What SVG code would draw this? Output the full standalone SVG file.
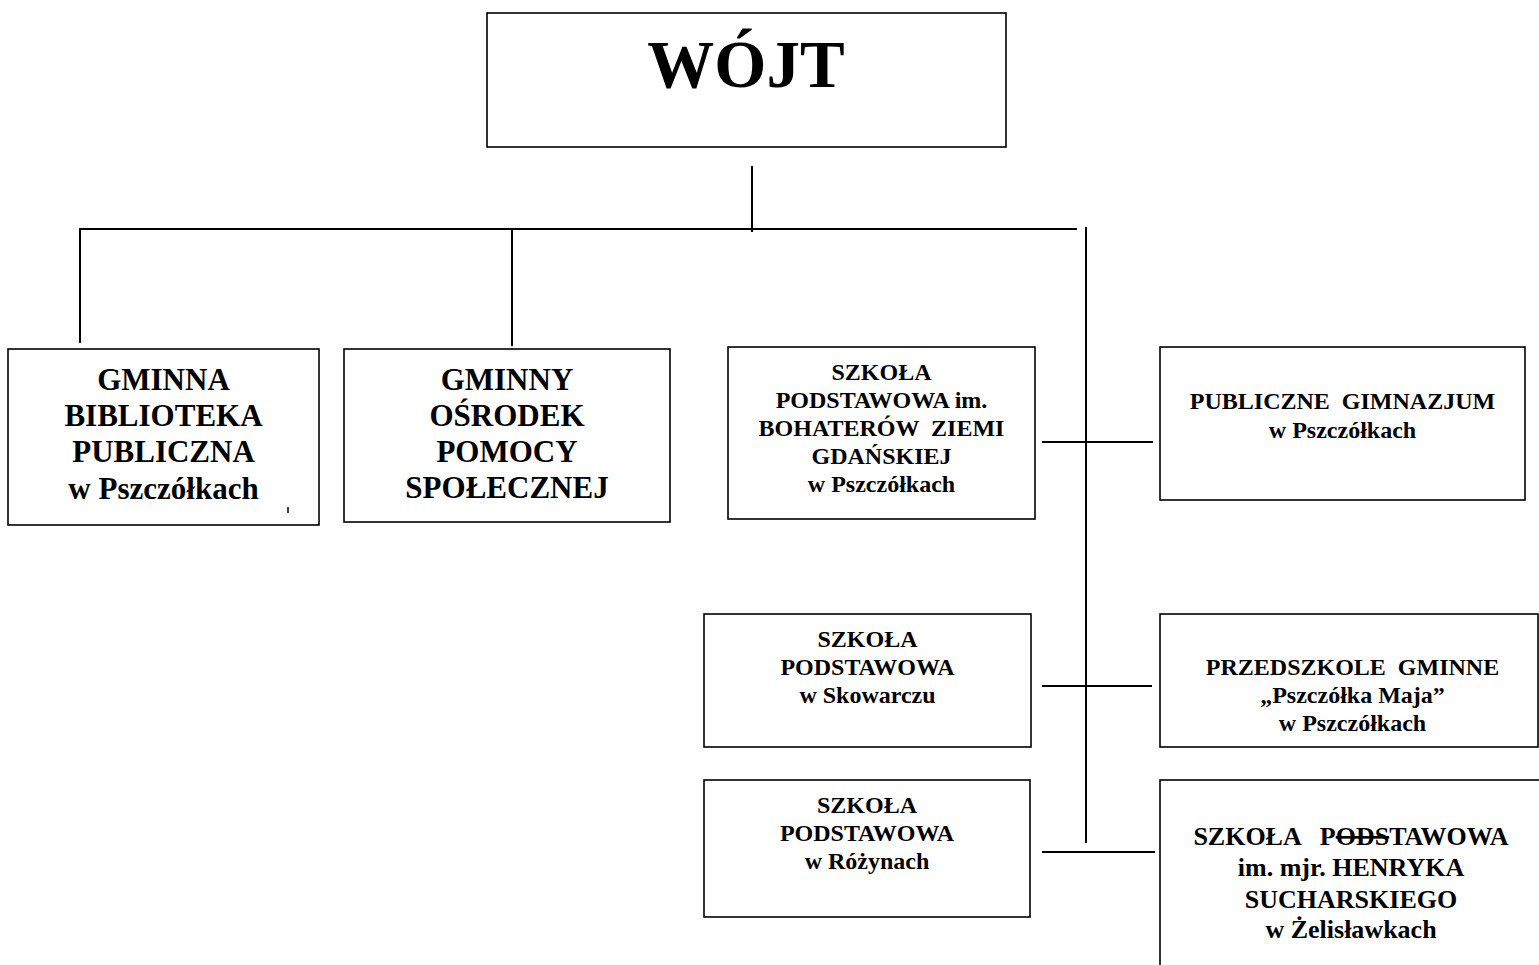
<svg xmlns="http://www.w3.org/2000/svg" width="1539" height="965" viewBox="0 0 1539 965">
<style>
.box{fill:#fff;stroke:#000;stroke-width:1.6}
.ln{stroke:#000;stroke-width:2;fill:none}
text{font-family:"Liberation Serif","Times New Roman",serif;font-weight:bold;fill:#000;text-anchor:middle;white-space:pre}
.big{font-size:31px}
.md{font-size:24px}
.lg{font-size:26px}
</style>
<rect width="1539" height="965" fill="#fff"/>
<g id="connectors">
<line class="ln" x1="752" y1="166" x2="752" y2="232"/>
<line class="ln" x1="79" y1="229" x2="1077" y2="229"/>
<line class="ln" x1="80" y1="229" x2="80" y2="343"/>
<line class="ln" x1="512" y1="229" x2="512" y2="346"/>
<line class="ln" x1="1086" y1="227" x2="1086" y2="843"/>
<line class="ln" x1="1042" y1="442" x2="1153" y2="442"/>
<line class="ln" x1="1042" y1="686" x2="1152" y2="686"/>
<line class="ln" x1="1042" y1="852" x2="1155" y2="852"/>
</g>
<g id="wojt">
<rect class="box" x="487" y="13" width="519" height="134"/>
<text x="746" y="87" style="font-size:67px">WÓJT</text>
</g>
<g id="biblioteka">
<rect class="box" x="8" y="349" width="311" height="176"/>
<text class="big" x="163.5" y="390">GMINNA</text>
<text class="big" x="163.5" y="426">BIBLIOTEKA</text>
<text class="big" x="163.5" y="462">PUBLICZNA</text>
<text class="big" x="163.5" y="499">w Pszczółkach</text>
<line x1="288" y1="507" x2="288" y2="513" stroke="#000" stroke-width="1.5"/>
</g>
<g id="gops">
<rect class="box" x="344" y="349" width="326" height="173"/>
<text class="big" x="507" y="390">GMINNY</text>
<text class="big" x="507" y="426">OŚRODEK</text>
<text class="big" x="507" y="462">POMOCY</text>
<text class="big" x="507" y="498">SPOŁECZNEJ</text>
</g>
<g id="sp-pszczolki">
<rect class="box" x="728" y="347" width="307" height="172"/>
<text class="md" x="881.5" y="380">SZKOŁA</text>
<text class="md" x="881.5" y="408">PODSTAWOWA im.</text>
<text class="md" x="881.5" y="436">BOHATERÓW  ZIEMI</text>
<text class="md" x="881.5" y="464">GDAŃSKIEJ</text>
<text class="md" x="881.5" y="492">w Pszczółkach</text>
</g>
<g id="gimnazjum">
<rect class="box" x="1160" y="347" width="365" height="153"/>
<text class="md" x="1342.5" y="409">PUBLICZNE  GIMNAZJUM</text>
<text class="md" x="1342.5" y="438">w Pszczółkach</text>
</g>
<g id="sp-skowarcz">
<rect class="box" x="704" y="614" width="327" height="133"/>
<text class="md" x="867.5" y="647">SZKOŁA</text>
<text class="md" x="867.5" y="675">PODSTAWOWA</text>
<text class="md" x="867.5" y="703">w Skowarczu</text>
</g>
<g id="przedszkole">
<rect class="box" x="1160" y="614" width="378" height="133"/>
<text class="md" x="1352.5" y="675">PRZEDSZKOLE  GMINNE</text>
<text class="md" x="1352.5" y="703">„Pszczółka Maja”</text>
<text class="md" x="1352.5" y="731">w Pszczółkach</text>
</g>
<g id="sp-rozyny">
<rect class="box" x="704" y="780" width="326" height="137"/>
<text class="md" x="867" y="813">SZKOŁA</text>
<text class="md" x="867" y="841">PODSTAWOWA</text>
<text class="md" x="867" y="869">w Różynach</text>
</g>
<g id="sp-zelislawki">
<rect class="box" x="1160" y="780" width="400" height="200"/>
<text class="lg" x="1351" y="845">SZKOŁA   P<tspan style="text-decoration:line-through">ODS</tspan>TAWOWA</text>
<text class="lg" x="1351" y="876">im. mjr. HENRYKA</text>
<text class="lg" x="1351" y="908">SUCHARSKIEGO</text>
<text class="lg" x="1351" y="938">w Żelisławkach</text>
</g>
</svg>
